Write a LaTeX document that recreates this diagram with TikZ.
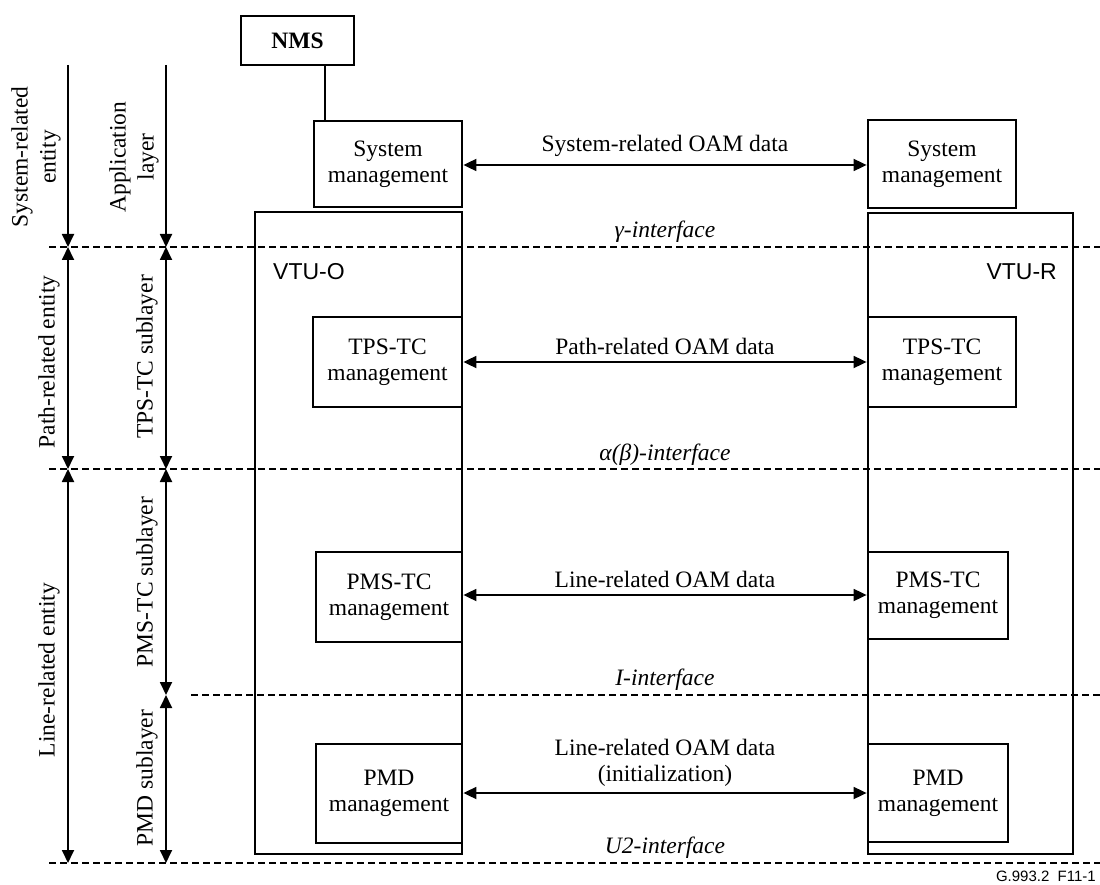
\documentclass[tikz,border=0pt]{standalone}
\usepackage{fontspec}
\setmainfont{Liberation Serif}
\newfontfamily\arialf{Liberation Sans}
\usetikzlibrary{arrows.meta}
\begin{document}
\begin{tikzpicture}[x=1pt,y=-1pt,
  txt/.style={font=\fontsize{23.5}{26}\selectfont, align=center, inner sep=0pt},
  box/.style={txt, draw, line width=2.8pt, fill=white},
  rot/.style={txt, font=\fontsize{23.5}{28}\selectfont, rotate=90},
  iface/.style={font=\fontsize{23.5}{26}\selectfont\itshape, inner sep=0pt},
  vtu/.style={draw, line width=1.2pt},
  ifline/.style={line width=1.4pt, dash pattern=on 7pt off 4pt},
  harrow/.style={line width=1.8pt, {Triangle[length=13pt,width=12pt]}-{Triangle[length=13pt,width=12pt]}},
  vend/.style={line width=1.8pt, -{Triangle[length=13pt,width=12pt]}},
  vboth/.style={line width=1.8pt, {Triangle[length=13pt,width=12pt]}-{Triangle[length=13pt,width=12pt]}}
]
\useasboundingbox (0,0) rectangle (1100,885);

% VTU rectangles
\draw[vtu] (255,212) rectangle (462,854);
\draw[vtu] (868,213) rectangle (1073,854);
\node[inner sep=0pt, font=\arialf\fontsize{23}{26}\selectfont] (vtuo) at (309,272) {VTU-O};
\node[inner sep=0pt, font=\arialf\fontsize{23}{26}\selectfont, anchor=east] (vtur) at (1057,272) {VTU-R};

% interface dashed lines
\coordinate (gL) at (49,247);  \coordinate (gR) at (1100,247);
\coordinate (aL) at (49,469);  \coordinate (aR) at (1100,469);
\coordinate (iL) at (191,695); \coordinate (iR) at (1100,695);
\coordinate (uL) at (49,863);  \coordinate (uR) at (1100,863);
\draw[ifline] (gL) -- (gR);
\draw[ifline] (aL) -- (aR);
\draw[ifline] (iL) -- (iR);
\draw[ifline] (uL) -- (uR);

\node[iface] (gam) at (665,232) {γ-interface};
\node[iface] (alb) at (665,455) {α(β)-interface};
\node[iface] (ii) at (665,680) {I-interface};
\node[iface] (u2) at (665,848) {U2-interface};

% NMS and boxes
\node[box, font=\fontsize{23.5}{26}\selectfont\bfseries, minimum width=113pt, minimum height=49pt] (nms) at (297.5,40.5) {NMS};
\node[box, minimum width=148pt, minimum height=86pt] (sysL) at (388,164) {System\\management};
\node[box, minimum width=148pt, minimum height=88pt] (sysR) at (942,164) {System\\management};
\node[box, minimum width=149pt, minimum height=90pt] (tpsL) at (387.5,362) {TPS-TC\\management};
\node[box, minimum width=148pt, minimum height=90pt] (tpsR) at (942,362) {TPS-TC\\management};
\node[box, minimum width=146pt, minimum height=90pt] (pmsL) at (389,597) {PMS-TC\\management};
\node[box, minimum width=140pt, minimum height=87pt] (pmsR) at (938,595.5) {PMS-TC\\management};
\node[box, minimum width=146pt, minimum height=99pt] (pmdL) at (389,793.5) {PMD\\management};
\node[box, minimum width=140pt, minimum height=98pt] (pmdR) at (938,793) {PMD\\management};

\draw[line width=2.8pt] ([xshift=27.5pt]nms.south) -- ([xshift=27.5pt]nms.south |- sysL.north);

% horizontal arrows
\draw[harrow] (sysL.east |- 0,165) -- (sysR.west |- 0,165) node[midway, txt, above=8pt] (l1) {System-related OAM data};
\draw[harrow] (tpsL.east |- 0,362) -- (tpsR.west |- 0,362) node[midway, txt, above=6pt] (l2) {Path-related OAM data};
\draw[harrow] (pmsL.east |- 0,595) -- (pmsR.west |- 0,595) node[midway, txt, above=6pt] (l3) {Line-related OAM data};
\draw[harrow] (pmdL.east |- 0,793) -- (pmdR.west |- 0,793) node[midway, txt, above=6pt] (l4) {Line-related OAM data\\(initialization)};

% left vertical arrows
\coordinate (e0) at (68,65);  \coordinate (e1) at (68,247);
\coordinate (e2) at (68,469); \coordinate (e3) at (68,863);
\draw[vend] (e0) -- (e1);
\draw[vboth] (e1) -- (e2);
\draw[vboth] (e2) -- (e3);

\coordinate (s0) at (166,65);  \coordinate (s1) at (166,247);
\coordinate (s2) at (166,469); \coordinate (s3) at (166,695);
\coordinate (s4) at (166,863);
\draw[vend] (s0) -- (s1);
\draw[vboth] (s1) -- (s2);
\draw[vboth] (s2) -- (s3);
\draw[vboth] (s3) -- (s4);

\node[rot] (r1) at (36,157) {System-related\\entity};
\node[rot] (r2) at (134,157) {Application\\layer};
\node[rot] (r3) at (49,362) {Path-related entity};
\node[rot] (r4) at (147,357) {TPS-TC sublayer};
\node[rot] (r5) at (49,670) {Line-related entity};
\node[rot] (r6) at (147,582) {PMS-TC sublayer};
\node[rot] (r7) at (147,778) {PMD sublayer};

\node[inner sep=0pt, anchor=east, font=\arialf\fontsize{15}{17}\selectfont] (fig) at (1096,876) {G.993.2\ \ F11-1};
\end{tikzpicture}
\end{document}
